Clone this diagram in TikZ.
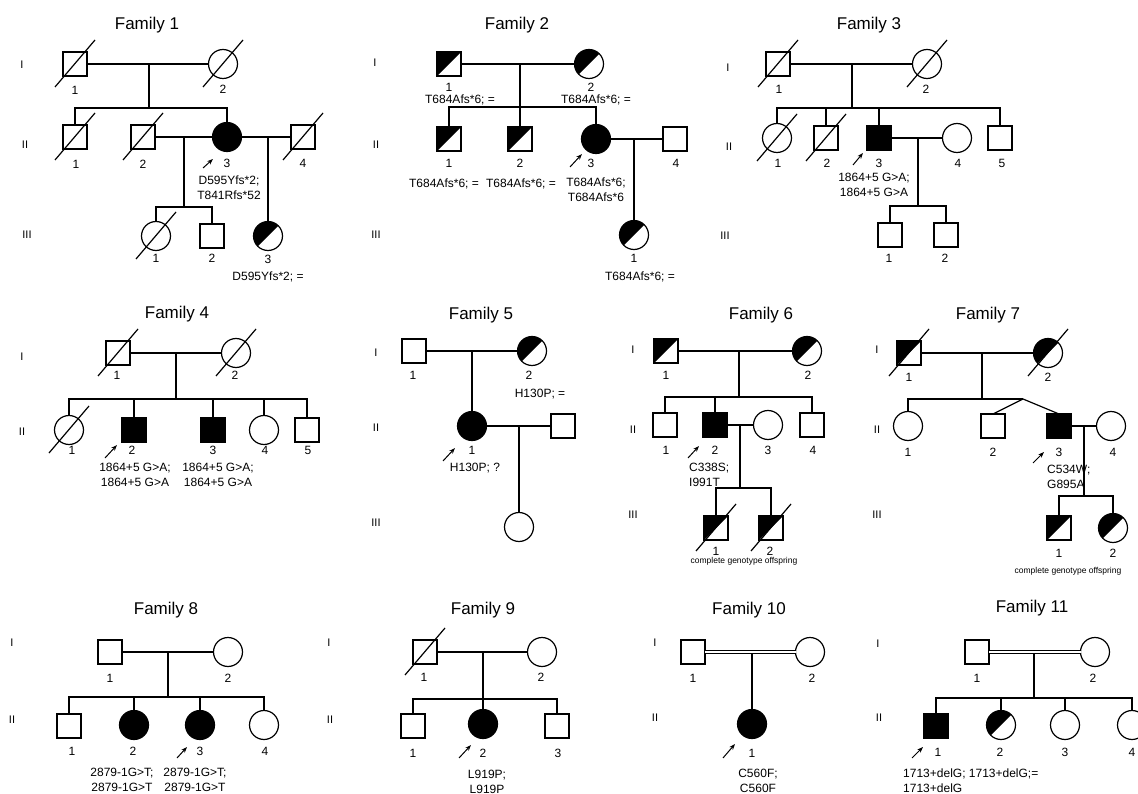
\documentclass[tikz,border=0pt]{standalone}
\usepackage{fontspec}
\setmainfont{Liberation Sans}
\usetikzlibrary{arrows.meta}
\newcommand\slashit[1]{\draw[ln] ([shift={(-20,23)}]#1.center) -- ([shift={(20,-24)}]#1.center);}
\tikzset{
  base/.style={draw, line width=1.2pt, inner sep=0pt, outer sep=0pt},
  male/.style={base, rectangle, minimum size=24pt},
  female/.style={base, circle, minimum size=29pt},
  aff/.style={fill=black},
  carrier/.style={path picture={\fill[black] (path picture bounding box.south west) -- (path picture bounding box.north west) -- (path picture bounding box.north east) -- cycle;}},
  ln/.style={line width=1.2pt},
  cons/.style={line width=1.1pt, double, double distance=2.6pt},
  arr/.style={line width=1pt, -{Stealth[length=6pt,width=4.5pt]}},
  ftitle/.style={font=\fontsize{17}{20}\selectfont, inner sep=0pt},
  genlab/.style={font=\fontsize{11}{13}\selectfont, inner sep=0pt},
  nlab/.style={font=\fontsize{12}{14}\selectfont, inner sep=0pt},
  mlab/.style={font=\fontsize{12}{15}\selectfont, inner sep=0pt, align=center},
  llab/.style={font=\fontsize{12}{15}\selectfont, inner sep=0pt, align=left, anchor=west},
  tlab/.style={font=\fontsize{8.5}{10}\selectfont, inner sep=0pt}
}
\begin{document}
\begin{tikzpicture}[x=1pt,y=-1pt]
\useasboundingbox (0,0) rectangle (1138,794);
\clip (0,0) rectangle (1138,794);
\fill[white] (0,0) rectangle (1138,794);

% ================= Family 1 =================
\node[ftitle] (f1t) at (147,25) {Family 1};
\node[genlab] (f1g1) at (22,65) {I};
\node[genlab] (f1g2) at (25,145) {II};
\node[genlab] (f1g3) at (27,235) {III};
\node[male] (f1a) at (75,64) {}; \slashit{f1a}
\node[female] (f1b) at (223,64) {}; \slashit{f1b}
\node[male] (f1c) at (75,137) {}; \slashit{f1c}
\node[male] (f1d) at (143,137) {}; \slashit{f1d}
\node[female,aff] (f1e) at (227,137) {};
\node[male] (f1f) at (303,137) {}; \slashit{f1f}
\node[female] (f1g) at (156,236) {}; \slashit{f1g}
\node[male] (f1h) at (212,236) {};
\node[female,carrier] (f1k) at (268,236) {};
\draw[ln] (f1a) -- (f1b);
\coordinate (f1m) at (149,64); \coordinate (f1s) at (149,108);
\draw[ln] (f1m) -- (f1s);
\draw[ln] (f1c.north) -- (f1c.north |- f1s) -- (f1e.north |- f1s) -- (f1e.north);
\draw[ln] (f1d) -- (f1e);
\coordinate (f1m2) at (184,137); \coordinate (f1s2) at (184,207);
\draw[ln] (f1m2) -- (f1s2);
\draw[ln] (f1g.north) -- (f1g.north |- f1s2) -- (f1h.north |- f1s2) -- (f1h.north);
\draw[ln] (f1e) -- (f1f);
\coordinate (f1m3) at (268,137);
\draw[ln] (f1m3) -- (f1k.north);
\node[nlab] (f1an) at (75,90) {1};
\node[nlab] (f1bn) at (223,89) {2};
\node[nlab] (f1cn) at (76,164) {1};
\node[nlab] (f1dn) at (143,164) {2};
\node[nlab] (f1en) at (227,163) {3};
\node[nlab] (f1fn) at (303,163) {4};
\node[nlab] (f1gn) at (156,258) {1};
\node[nlab] (f1hn) at (212,258) {2};
\node[nlab] (f1kn) at (268,259) {3};
\node[mlab] (f1el) at (229,188) {D595Yfs*2;\\T841Rfs*52};
\node[mlab] (f1kl) at (268,277) {D595Yfs*2; =};
\coordinate (f1at) at (203,168); \coordinate (f1ah) at (213,159);
\draw[arr] (f1at) -- (f1ah);

% ================= Family 2 =================
\node[ftitle] (f2t) at (517,25) {Family 2};
\node[genlab] (f2g1) at (375,63) {I};
\node[genlab] (f2g2) at (376,145) {II};
\node[genlab] (f2g3) at (376,235) {III};
\node[male,carrier] (f2a) at (449,64) {};
\node[female,carrier] (f2b) at (589,64) {};
\node[male,carrier] (f2c) at (449,139) {};
\node[male,carrier] (f2d) at (520,139) {};
\node[female,aff] (f2e) at (596,139) {};
\node[male] (f2f) at (675,139) {};
\node[female,carrier] (f2g) at (634,235) {};
\draw[ln] (f2a) -- (f2b);
\coordinate (f2m) at (520,64); \coordinate (f2s) at (520,107);
\draw[ln] (f2m) -- (f2s) -- (f2d.north);
\draw[ln] (f2c.north) -- (f2c.north |- f2s) -- (f2e.north |- f2s) -- (f2e.north);
\draw[ln] (f2e) -- (f2f);
\coordinate (f2m2) at (634,139);
\draw[ln] (f2m2) -- (f2g.north);
\node[nlab] (f2an) at (449,87) {1};
\node[mlab] (f2al) at (460,100) {T684Afs*6; =};
\node[nlab] (f2bn) at (591,87) {2};
\node[mlab] (f2bl) at (596,100) {T684Afs*6; =};
\node[nlab] (f2cn) at (449,163) {1};
\node[mlab] (f2cl) at (444,184) {T684Afs*6; =};
\node[nlab] (f2dn) at (520,163) {2};
\node[mlab] (f2dl) at (521,184) {T684Afs*6; =};
\node[nlab] (f2en) at (591,163) {3};
\node[mlab] (f2el) at (596,190) {T684Afs*6;\\T684Afs*6};
\node[nlab] (f2fn) at (676,163) {4};
\node[nlab] (f2gn) at (634,258) {1};
\node[mlab] (f2gl) at (640,277) {T684Afs*6; =};
\coordinate (f2at) at (570,167); \coordinate (f2ah) at (582,154);
\draw[arr] (f2at) -- (f2ah);

% ================= Family 3 =================
\node[ftitle] (f3t) at (869,25) {Family 3};
\node[genlab] (f3g1) at (728,68) {I};
\node[genlab] (f3g2) at (729,147) {II};
\node[genlab] (f3g3) at (725,236) {III};
\node[male] (f3a) at (778,64) {}; \slashit{f3a}
\node[female] (f3b) at (927,64) {}; \slashit{f3b}
\node[female] (f3c) at (777,138) {}; \slashit{f3c}
\node[male] (f3d) at (826,138) {}; \slashit{f3d}
\node[male,aff] (f3e) at (879,138) {};
\node[female] (f3f) at (957,138) {};
\node[male] (f3g) at (1000,138) {};
\node[male] (f3h) at (890,235) {};
\node[male] (f3k) at (946,235) {};
\draw[ln] (f3a) -- (f3b);
\coordinate (f3m) at (852,64); \coordinate (f3s) at (852,108);
\draw[ln] (f3m) -- (f3s);
\draw[ln] (f3c.north) -- (f3c.north |- f3s) -- (f3g.north |- f3s) -- (f3g.north);
\draw[ln] (f3d.north |- f3s) -- (f3d.north);
\draw[ln] (f3e.north |- f3s) -- (f3e.north);
\draw[ln] (f3e) -- (f3f);
\coordinate (f3m2) at (918,138); \coordinate (f3s2) at (918,206);
\draw[ln] (f3m2) -- (f3s2);
\draw[ln] (f3h.north) -- (f3h.north |- f3s2) -- (f3k.north |- f3s2) -- (f3k.north);
\node[nlab] (f3an) at (779,89) {1};
\node[nlab] (f3bn) at (926,89) {2};
\node[nlab] (f3cn) at (778,163) {1};
\node[nlab] (f3dn) at (827,163) {2};
\node[nlab] (f3en) at (879,163) {3};
\node[nlab] (f3fn) at (958,163) {4};
\node[nlab] (f3gn) at (1002,163) {5};
\node[nlab] (f3hn) at (889,258) {1};
\node[nlab] (f3kn) at (945,258) {2};
\node[mlab] (f3el) at (874,185) {1864+5 G>A;\\1864+5 G>A};
\coordinate (f3at) at (853,165); \coordinate (f3ah) at (863,153);
\draw[arr] (f3at) -- (f3ah);

% ================= Family 4 =================
\node[ftitle] (f4t) at (177,314) {Family 4};
\node[genlab] (f4g1) at (22,357) {I};
\node[genlab] (f4g2) at (22,432) {II};
\node[male] (f4a) at (118,353) {}; \slashit{f4a}
\node[female] (f4b) at (236,353) {}; \slashit{f4b}
\node[female] (f4c) at (69,430) {}; \slashit{f4c}
\node[male,aff] (f4d) at (134,430) {};
\node[male,aff] (f4e) at (213,430) {};
\node[female] (f4f) at (264,430) {};
\node[male] (f4g) at (307,430) {};
\draw[ln] (f4a) -- (f4b);
\coordinate (f4m) at (176,353); \coordinate (f4s) at (176,399);
\draw[ln] (f4m) -- (f4s);
\draw[ln] (f4c.north) -- (f4c.north |- f4s) -- (f4g.north |- f4s) -- (f4g.north);
\draw[ln] (f4d.north |- f4s) -- (f4d.north);
\draw[ln] (f4e.north |- f4s) -- (f4e.north);
\draw[ln] (f4f.north |- f4s) -- (f4f.north);
\node[nlab] (f4an) at (117,375) {1};
\node[nlab] (f4bn) at (235,375) {2};
\node[nlab] (f4cn) at (72,450) {1};
\node[nlab] (f4dn) at (132,450) {2};
\node[nlab] (f4en) at (213,450) {3};
\node[nlab] (f4fn) at (265,450) {4};
\node[nlab] (f4gn) at (308,450) {5};
\node[mlab] (f4dl) at (135,475) {1864+5 G>A;\\1864+5 G>A};
\node[mlab] (f4el) at (218,475) {1864+5 G>A;\\1864+5 G>A};
\coordinate (f4at) at (105,458); \coordinate (f4ah) at (117,445);
\draw[arr] (f4at) -- (f4ah);

% ================= Family 5 =================
\node[ftitle] (f5t) at (481,315) {Family 5};
\node[genlab] (f5g1) at (376,353) {I};
\node[genlab] (f5g2) at (376,428) {II};
\node[genlab] (f5g3) at (376,523) {III};
\node[male] (f5a) at (414,351) {};
\node[female,carrier] (f5b) at (532,351) {};
\node[female,aff] (f5c) at (472,426) {};
\node[male] (f5d) at (563,426) {};
\node[female] (f5e) at (519,527) {};
\draw[ln] (f5a) -- (f5b);
\coordinate (f5m) at (472,351);
\draw[ln] (f5m) -- (f5c.north);
\draw[ln] (f5c) -- (f5d);
\coordinate (f5m2) at (519,426);
\draw[ln] (f5m2) -- (f5e.north);
\node[nlab] (f5an) at (413,375) {1};
\node[nlab] (f5bn) at (529,375) {2};
\node[mlab] (f5bl) at (540,394) {H130P; =};
\node[nlab] (f5cn) at (472,450) {1};
\node[mlab] (f5cl) at (475,468) {H130P; ?};
\coordinate (f5at) at (443,461); \coordinate (f5ah) at (455,448);
\draw[arr] (f5at) -- (f5ah);

% ================= Family 6 =================
\node[ftitle] (f6t) at (761,315) {Family 6};
\node[genlab] (f6g1) at (633,350) {I};
\node[genlab] (f6g2) at (633,430) {II};
\node[genlab] (f6g3) at (633,515) {III};
\node[male,carrier] (f6a) at (666,351) {};
\node[female,carrier] (f6b) at (807,351) {};
\node[male] (f6c) at (665,425) {};
\node[male,aff] (f6d) at (715,425) {};
\node[female] (f6e) at (768,425) {};
\node[male] (f6f) at (812,425) {};
\node[male,carrier] (f6g) at (716,528) {}; \slashit{f6g}
\node[male,carrier] (f6h) at (771,528) {}; \slashit{f6h}
\draw[ln] (f6a) -- (f6b);
\coordinate (f6m) at (739,351); \coordinate (f6s) at (739,397);
\draw[ln] (f6m) -- (f6s);
\draw[ln] (f6c.north) -- (f6c.north |- f6s) -- (f6f.north |- f6s) -- (f6f.north);
\draw[ln] (f6d.north |- f6s) -- (f6d.north);
\draw[ln] (f6d) -- (f6e);
\coordinate (f6m2) at (740,425); \coordinate (f6s2) at (740,488);
\draw[ln] (f6m2) -- (f6s2);
\draw[ln] (f6g.north) -- (f6g.north |- f6s2) -- (f6h.north |- f6s2) -- (f6h.north);
\node[nlab] (f6an) at (666,375) {1};
\node[nlab] (f6bn) at (808,375) {2};
\node[nlab] (f6cn) at (666,450) {1};
\node[nlab] (f6dn) at (715,450) {2};
\node[nlab] (f6en) at (768,450) {3};
\node[nlab] (f6fn) at (813,450) {4};
\node[nlab] (f6gn) at (716,551) {1};
\node[nlab] (f6hn) at (770,551) {2};
\node[llab] (f6dl) at (689,475) {C338S;\\I991T};
\node[tlab] (f6tl) at (744,561) {complete genotype offspring};
\coordinate (f6at) at (688,458); \coordinate (f6ah) at (699,446);
\draw[arr] (f6at) -- (f6ah);

% ================= Family 7 =================
\node[ftitle] (f7t) at (988,315) {Family 7};
\node[genlab] (f7g1) at (877,350) {I};
\node[genlab] (f7g2) at (877,430) {II};
\node[genlab] (f7g3) at (877,515) {III};
\node[male,carrier] (f7a) at (909,353) {}; \slashit{f7a}
\node[female,carrier] (f7b) at (1048,353) {}; \slashit{f7b}
\node[female] (f7c) at (908,426) {};
\node[male] (f7d) at (993,426) {};
\node[male,aff] (f7e) at (1059,426) {};
\node[female] (f7f) at (1111,426) {};
\node[male,carrier] (f7g) at (1059,528) {};
\node[female,carrier] (f7h) at (1113,528) {};
\draw[ln] (f7a) -- (f7b);
\coordinate (f7m) at (982,353); \coordinate (f7s) at (982,399);
\coordinate (f7tw) at (1023,399);
\draw[ln] (f7m) -- (f7s);
\draw[ln] (f7c.north) -- (f7c.north |- f7s) -- (f7tw);
\draw[ln] (f7tw) -- (f7d.north);
\draw[ln] (f7tw) -- (f7e.north);
\draw[ln] (f7e) -- (f7f);
\coordinate (f7m2) at (1084,426); \coordinate (f7s2) at (1084,496);
\draw[ln] (f7m2) -- (f7s2);
\draw[ln] (f7g.north) -- (f7g.north |- f7s2) -- (f7h.north |- f7s2) -- (f7h.north);
\node[nlab] (f7an) at (909,377) {1};
\node[nlab] (f7bn) at (1048,377) {2};
\node[nlab] (f7cn) at (908,452) {1};
\node[nlab] (f7dn) at (993,452) {2};
\node[nlab] (f7en) at (1059,452) {3};
\node[nlab] (f7fn) at (1113,452) {4};
\node[nlab] (f7gn) at (1059,553) {1};
\node[nlab] (f7hn) at (1113,553) {2};
\node[llab] (f7el) at (1047,477) {C534W;\\G895A};
\node[tlab] (f7tl) at (1068,571) {complete genotype offspring};
\coordinate (f7at) at (1033,463); \coordinate (f7ah) at (1044,452);
\draw[arr] (f7at) -- (f7ah);

% ================= Family 8 =================
\node[ftitle] (f8t) at (166,610) {Family 8};
\node[genlab] (f8g1) at (12,643) {I};
\node[genlab] (f8g2) at (12,720) {II};
\node[male] (f8a) at (110,652) {};
\node[female] (f8b) at (228,652) {};
\node[male] (f8c) at (69,726) {};
\node[female,aff] (f8d) at (134,725) {};
\node[female,aff] (f8e) at (200,725) {};
\node[female] (f8f) at (264,725) {};
\draw[ln] (f8a) -- (f8b);
\coordinate (f8m) at (168,652); \coordinate (f8s) at (168,697);
\draw[ln] (f8m) -- (f8s);
\draw[ln] (f8c.north) -- (f8c.north |- f8s) -- (f8f.north |- f8s) -- (f8f.north);
\draw[ln] (f8d.north |- f8s) -- (f8d.north);
\draw[ln] (f8e.north |- f8s) -- (f8e.north);
\node[nlab] (f8an) at (110,678) {1};
\node[nlab] (f8bn) at (228,678) {2};
\node[nlab] (f8cn) at (72,751) {1};
\node[nlab] (f8dn) at (133,751) {2};
\node[nlab] (f8en) at (200,751) {3};
\node[nlab] (f8fn) at (265,751) {4};
\node[mlab] (f8dl) at (122,780) {2879-1G>T;\\2879-1G>T};
\node[mlab] (f8el) at (195,780) {2879-1G>T;\\2879-1G>T};
\coordinate (f8at) at (177,758); \coordinate (f8ah) at (187,747);
\draw[arr] (f8at) -- (f8ah);

% ================= Family 9 =================
\node[ftitle] (f9t) at (483,610) {Family 9};
\node[genlab] (f9g1) at (329,643) {I};
\node[genlab] (f9g2) at (330,720) {II};
\node[male] (f9a) at (425,652) {}; \slashit{f9a}
\node[female] (f9b) at (542,652) {};
\node[male] (f9c) at (413,726) {};
\node[female,aff] (f9d) at (483,724) {};
\node[male] (f9e) at (557,726) {};
\draw[ln] (f9a) -- (f9b);
\coordinate (f9m) at (483,652); \coordinate (f9s) at (483,699);
\draw[ln] (f9m) -- (f9s) -- (f9d.north);
\draw[ln] (f9c.north) -- (f9c.north |- f9s) -- (f9e.north |- f9s) -- (f9e.north);
\node[nlab] (f9an) at (424,677) {1};
\node[nlab] (f9bn) at (541,677) {2};
\node[nlab] (f9cn) at (413,753) {1};
\node[nlab] (f9dn) at (483,753) {2};
\node[nlab] (f9en) at (558,753) {3};
\node[mlab] (f9dl) at (487,782) {L919P;\\L919P};
\coordinate (f9at) at (459,758); \coordinate (f9ah) at (471,745);
\draw[arr] (f9at) -- (f9ah);

% ================= Family 10 =================
\node[ftitle] (f10t) at (749,610) {Family 10};
\node[genlab] (f10g1) at (655,643) {I};
\node[genlab] (f10g2) at (655,718) {II};
\node[male] (f10a) at (693,652) {};
\node[female] (f10b) at (810,652) {};
\node[female,aff] (f10c) at (752,724) {};
\draw[cons] (f10a) -- (f10b);
\coordinate (f10m) at (752,654);
\draw[ln] (f10m) -- (f10c.north);
\node[nlab] (f10an) at (693,678) {1};
\node[nlab] (f10bn) at (812,678) {2};
\node[nlab] (f10cn) at (752,753) {1};
\node[mlab] (f10cl) at (758,781) {C560F;\\C560F};
\coordinate (f10at) at (723,758); \coordinate (f10ah) at (735,744);
\draw[arr] (f10at) -- (f10ah);

% ================= Family 11 =================
\node[ftitle] (f11t) at (1032,608) {Family 11};
\node[genlab] (f11g1) at (878,644) {I};
\node[genlab] (f11g2) at (879,718) {II};
\node[male] (f11a) at (977,652) {};
\node[female] (f11b) at (1095,652) {};
\node[male,aff] (f11c) at (936,726) {};
\node[female,carrier] (f11d) at (1001,725) {};
\node[female] (f11e) at (1065,725) {};
\node[female] (f11f) at (1132,725) {};
\draw[cons] (f11a) -- (f11b);
\coordinate (f11m) at (1034,654); \coordinate (f11s) at (1034,698);
\draw[ln] (f11m) -- (f11s);
\draw[ln] (f11c.north) -- (f11c.north |- f11s) -- (f11f.north |- f11s) -- (f11f.north);
\draw[ln] (f11d.north |- f11s) -- (f11d.north);
\draw[ln] (f11e.north |- f11s) -- (f11e.north);
\node[nlab] (f11an) at (977,678) {1};
\node[nlab] (f11bn) at (1093,678) {2};
\node[nlab] (f11cn) at (938,752) {1};
\node[nlab] (f11dn) at (1000,752) {2};
\node[nlab] (f11en) at (1065,752) {3};
\node[nlab] (f11fn) at (1132,752) {4};
\node[llab] (f11cl) at (903,781) {1713+delG; 1713+delG;=\\1713+delG};
\coordinate (f11at) at (912,758); \coordinate (f11ah) at (923,747);
\draw[arr] (f11at) -- (f11ah);
\end{tikzpicture}
\end{document}
